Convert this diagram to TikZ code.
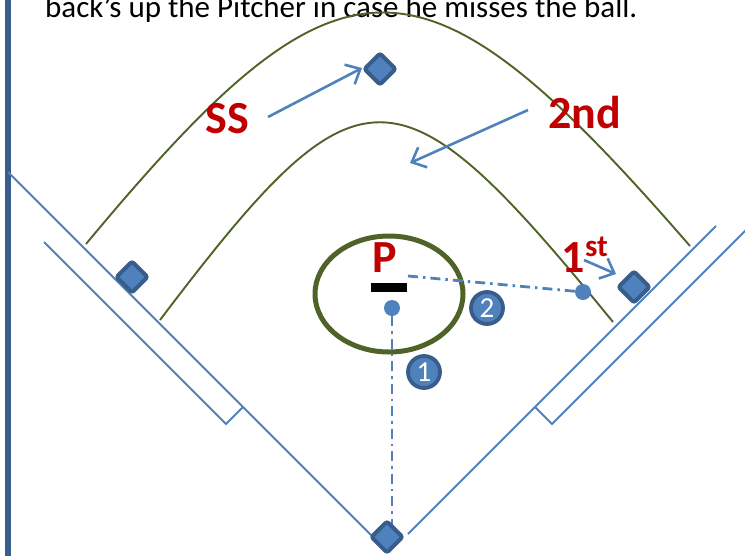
\documentclass[tikz,border=0pt]{standalone}
\usepackage{fontspec}
\setmainfont{Carlito}
\usetikzlibrary{arrows.meta,shapes.geometric}
\definecolor{bblue}{HTML}{4F81BD}
\definecolor{dkblue}{HTML}{385D8A}
\definecolor{olive}{HTML}{4F6228}
\definecolor{lblred}{HTML}{C00000}
\begin{document}
\begin{tikzpicture}[x=1pt,y=-1pt,
  foul/.style={bblue,line width=2pt},
  arcline/.style={olive,line width=1.9pt},
  base/.style={draw=dkblue,fill=bblue,line width=4pt,rounded corners=2.5pt,rotate=45,minimum size=22pt,inner sep=0pt},
  ball/.style={circle,fill=bblue,minimum size=16pt,inner sep=0pt},
  path/.style={bblue,line width=2.8pt,dash pattern=on 10pt off 5pt on 2.5pt off 5pt},
  arr/.style={bblue,line width=2.6pt,-{Straight Barb[length=12pt,width=22pt]}},
  num/.style={circle,draw=dkblue,fill=bblue,line width=3.8pt,minimum size=32pt,inner sep=0pt,text=white,font=\fontsize{29}{29}\selectfont},
  lbl/.style={lblred,font=\fontsize{46}{46}\selectfont\bfseries,inner sep=0pt,anchor=base}]
\useasboundingbox (0,0) rectangle (745,555);
% left bar
\draw[dkblue,line width=5.5pt] (8,-5) -- (8,560);
% caption
\node[anchor=base west,inner sep=0pt,font=\fontsize{31}{31}\selectfont] (caption) at (45,17) {back’s up the Pitcher in case he misses the ball.};
% foul lines
\draw[foul] (8,172) -- (372,536);
\draw[foul] (243,407) -- (226,424) -- (44,242);
\draw[foul] (716,226) -- (408,534);
\draw[foul] (535,407) -- (552,424) -- (760,216);
% arcs
\draw[arcline] (86,244) .. controls (343,-65) and (420,-65) .. (690,246);
\draw[arcline] (160,320) .. controls (360,56) and (396,56) .. (613,322);
% mound
\node[draw=olive,ellipse,line width=5pt,minimum width=148pt,minimum height=116pt,inner sep=0pt] (mound) at (389,294) {};
\node[fill=black,minimum width=36pt,minimum height=9pt,inner sep=0pt] (rubber) at (389,287.5) {};
% balls and paths
\node[ball] (pball) at (392,308) {};
\node[ball] (fball) at (583,292) {};
\coordinate (homeTop) at (392,528);
\coordinate (rubEnd) at (408,276);
\draw[path] (pball) -- (homeTop);
\draw[path] (rubEnd) -- (fball);
% bases
\node[base] (second) at (380,69) {};
\node[base] (third) at (132,277) {};
\node[base] (first) at (634,287) {};
\node[base] (home) at (387,537) {};
% arrows
\coordinate (ssA) at (268,117);
\coordinate (ssB) at (362,68);
\coordinate (sdA) at (528,110);
\coordinate (sdB) at (410,163);
\coordinate (fsA) at (584,260);
\coordinate (fsB) at (616,274);
\draw[arr] (ssA) -- (ssB);
\draw[arr] (sdA) -- (sdB);
\draw[arr] (fsA) -- (fsB);
% numbered circles
\node[num] (n1) at (424,372) {1};
\node[num] (n2) at (487,308) {2};
% labels
\node[lbl] (ss) at (227,133) {SS};
\node[lbl] (snd) at (585,128) {2nd};
\node[lbl] (pl) at (385,272) {P};
\node[lbl] (fst) at (573,272) {1};
\node[lblred,font=\fontsize{31}{31}\selectfont\bfseries,inner sep=0pt,anchor=base west] (st) at (585,256) {st};
\end{tikzpicture}
\end{document}
